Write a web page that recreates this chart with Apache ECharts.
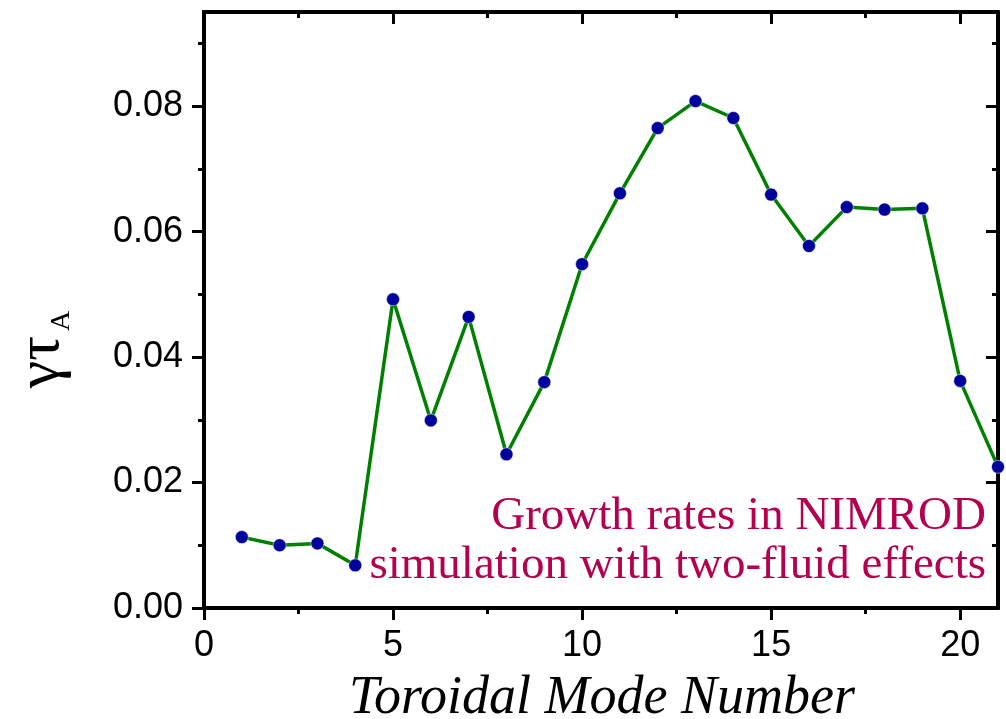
<!DOCTYPE html>
<html>
<head>
<meta charset="utf-8">
<script src="https://cdn.jsdelivr.net/npm/echarts@6/dist/echarts.min.js"></script>
<style>html,body{margin:0;padding:0;background:#fff;}#c{width:1006px;height:719px;}</style>
</head>
<body>
<div id="c"></div>
<script>
const modeNumbers = [1,2,3,4,5,6,7,8,9,10,11,12,13,14,15,16,17,18,19,20,21];
const growthRates = [0.0113,0.0100,0.0103,0.0068,0.0492,0.0299,0.0464,0.0245,0.0360,0.0548,0.0661,0.0765,0.0808,0.0781,0.0659,0.0577,0.0639,0.0635,0.0637,0.0362,0.0225];
const xMajorTicks = [0,5,10,15,20];
const xMinorTicks = [2.5,7.5,12.5,17.5];
const yMajorTicks = [0,0.02,0.04,0.06,0.08];
const yMinorTicks = [0.01,0.03,0.05,0.07,0.09];
const annotationLines = ['Growth rates in NIMROD','simulation with two-fluid effects'];
const xTitle = 'Toroidal Mode Number';

const chart = echarts.init(document.getElementById('c'), null, {renderer:'canvas'});
const X_MIN=0, X_MAX=21, Y_MIN=0, Y_MAX=0.095;
const axisLineStyle = {color:'#000', width:4};
const labelFont = {color:'#000', fontFamily:'Liberation Sans, Arial, sans-serif', fontSize:36};

function xAx(pos, ticks, len, inside, labels){
  return {type:'value', min:X_MIN, max:X_MAX, position:pos,
    axisLine:{show:true, onZero:false, lineStyle:axisLineStyle},
    axisTick:{show:true, inside:inside, length:len, customValues:ticks, lineStyle:{color:'#000', width:3}},
    axisLabel: labels ? Object.assign({show:true, margin:20, customValues:ticks, formatter:v=>String(v)}, labelFont) : {show:false},
    splitLine:{show:false}};
}
function yAx(pos, ticks, len, inside, labels){
  return {type:'value', min:Y_MIN, max:Y_MAX, position:pos,
    axisLine:{show:true, onZero:false, lineStyle:axisLineStyle},
    axisTick:{show:true, inside:inside, length:len, customValues:ticks, lineStyle:{color:'#000', width:3}},
    axisLabel: labels ? Object.assign({show:true, margin:21, customValues:ticks, formatter:v=>v.toFixed(2)}, labelFont) : {show:false},
    splitLine:{show:false}};
}

const option = {
  animation:false,
  backgroundColor:'#fff',
  grid:{left:204, right:8, top:12, bottom:111, containLabel:false},
  xAxis:[
    xAx('bottom', xMajorTicks, 12, false, true),
    xAx('bottom', xMinorTicks, 6, false, false),
    xAx('top', xMajorTicks, 12, true, false),
    xAx('top', xMinorTicks, 6, true, false)
  ],
  yAxis:[
    yAx('left', yMajorTicks, 12, false, true),
    yAx('left', yMinorTicks, 6, false, false),
    yAx('right', yMajorTicks, 12, true, false),
    yAx('right', yMinorTicks, 6, true, false)
  ],
  series:[{
    type:'line', xAxisIndex:0, yAxisIndex:0,
    data: modeNumbers.map((m,i)=>[m, growthRates[i]]),
    lineStyle:{color:'#008000', width:3.5},
    symbol:'circle', symbolSize:13,
    itemStyle:{color:'#00009c', borderColor:'#ffffff', borderWidth:0.5},
    clip:true, z:3
  }],
  graphic:[
    {type:'text', x:986, y:517, z:10, style:{text:annotationLines[0], textAlign:'right', textVerticalAlign:'middle', fill:'#b4004e', font:'47px "Liberation Serif", "Times New Roman", serif'}},
    {type:'text', x:986, y:566, z:10, style:{text:annotationLines[1], textAlign:'right', textVerticalAlign:'middle', fill:'#b4004e', font:'47px "Liberation Serif", "Times New Roman", serif'}},
    {type:'text', x:602, y:699, style:{text:xTitle, textAlign:'center', textVerticalAlign:'middle', fill:'#000', font:'italic 54px "Liberation Serif", "Times New Roman", serif'}},
    {type:'text', x:42, y:362, rotation:Math.PI/2, style:{text:'γτ', textAlign:'center', textVerticalAlign:'middle', fill:'#000', font:'62px "Liberation Serif", "Times New Roman", serif'}},
    {type:'text', x:62, y:321, rotation:Math.PI/2, style:{text:'A', textAlign:'center', textVerticalAlign:'middle', fill:'#000', font:'28px "Liberation Serif", "Times New Roman", serif'}}
  ]
};
chart.setOption(option);
</script>
</body>
</html>
